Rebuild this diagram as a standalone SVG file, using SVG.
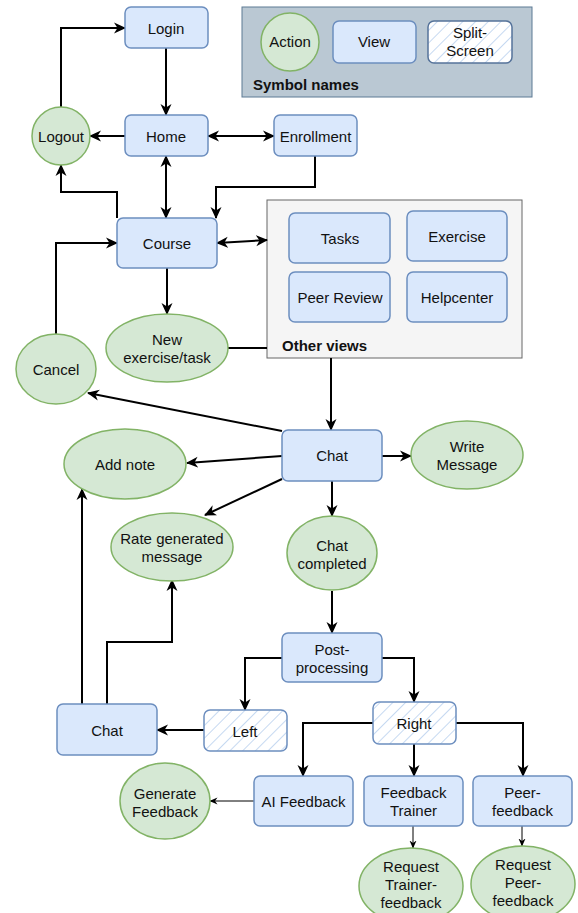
<svg xmlns="http://www.w3.org/2000/svg" width="578" height="913" viewBox="0 0 578 913">
<style>
.view{fill:#dae8fc;stroke:#6c8ebf;stroke-width:1.5}
.act{fill:#d5e8d4;stroke:#82b366;stroke-width:1.5}
.split{fill:url(#hatch);stroke:#6c8ebf;stroke-width:1.5}
text{font-family:"Liberation Sans",Arial,sans-serif;font-size:15px;fill:#111;text-anchor:middle}
.bold{font-weight:bold;text-anchor:start}
.c{fill:none;stroke:#000;stroke-width:2}
.c1{fill:none;stroke:#000;stroke-width:1}
.a{marker-end:url(#ah)}
.aa{marker-end:url(#ah);marker-start:url(#ah)}
.t{marker-end:url(#ahs)}
</style>
<defs>
<marker id="ah" markerUnits="userSpaceOnUse" markerWidth="12" markerHeight="12" viewBox="0 0 12 12" refX="11" refY="6" orient="auto-start-reverse">
<path d="M0,0.5 L12,6 L0,11.5 L3.5,6 Z" fill="#000"/>
</marker>
<marker id="ahs" markerUnits="userSpaceOnUse" markerWidth="8" markerHeight="8" viewBox="0 0 8 8" refX="7.5" refY="4" orient="auto">
<path d="M0,0.5 L8,4 L0,7.5 L2.5,4 Z" fill="#000"/>
</marker>
<pattern id="hatch" patternUnits="userSpaceOnUse" width="9" height="9" patternTransform="rotate(45)">
<rect width="9" height="9" fill="#fff"/>
<line x1="0" y1="0" x2="0" y2="9" stroke="#c6d9f1" stroke-width="2"/>
</pattern>
</defs>

<g id="legend">
<rect x="242" y="7" width="290" height="90" fill="#bac8d3" stroke="#5d7a94" stroke-width="1"/>
<circle class="act" cx="290" cy="42" r="29"/>
<text x="290" y="47">Action</text>
<rect class="view" x="333" y="21" width="83" height="42" rx="6"/>
<text x="374" y="47">View</text>
<rect class="split" x="428" y="21" width="84" height="42" rx="6" style="stroke:#56739a"/>
<text x="470" y="38">Split-</text>
<text x="470" y="56">Screen</text>
<text class="bold" x="253" y="90">Symbol names</text>
</g>

<g id="other-views">
<rect x="267" y="200" width="255" height="158" fill="#f5f5f5" stroke="#666" stroke-width="1"/>
<text class="bold" x="282" y="351">Other views</text>
</g>
<g id="tasks"><rect class="view" x="289" y="213" width="101" height="50" rx="6"/><text x="340" y="244">Tasks</text></g>
<g id="exercise"><rect class="view" x="407" y="211" width="100" height="50" rx="6"/><text x="457" y="242">Exercise</text></g>
<g id="peer-review"><rect class="view" x="289" y="272" width="101" height="50" rx="6"/><text x="340" y="303">Peer Review</text></g>
<g id="helpcenter"><rect class="view" x="407" y="272" width="100" height="50" rx="6"/><text x="457" y="303">Helpcenter</text></g>

<g id="connectors">
<path class="c a" d="M61,107 V28 H125"/>
<path class="c a" d="M166,48 V115"/>
<path class="c a" d="M125,136 H90"/>
<path class="c aa" d="M208,136 H274"/>
<path class="c aa" d="M166,156 V218"/>
<path class="c a" d="M315,156 V187 H216 V218"/>
<path class="c a" d="M117,218 V192 H61 V165"/>
<path class="c aa" d="M217,243 L267,240"/>
<path class="c a" d="M167,268 V314"/>
<path class="c" d="M228,348 H267"/>
<path class="c a" d="M56,334 V243 H117"/>
<path class="c a" d="M331,358 V430"/>
<path class="c a" d="M282,431 L88,393"/>
<path class="c a" d="M282,456 L187,463"/>
<path class="c a" d="M282,479 L205,515"/>
<path class="c a" d="M382,456 H411"/>
<path class="c a" d="M332,481 V516"/>
<path class="c a" d="M332,591 V633"/>
<path class="c a" d="M282,658 H245 V710"/>
<path class="c a" d="M382,658 H414 V702"/>
<path class="c a" d="M204,730 H157"/>
<path class="c a" d="M82,704 V489"/>
<path class="c a" d="M107,704 V642 H172 V580"/>
<path class="c a" d="M373,723 H303 V776"/>
<path class="c a" d="M414,744 V776"/>
<path class="c a" d="M456,723 H523 V776"/>
<path class="c1 t" d="M254,801 H210"/>
<path class="c1 t" d="M413,826 V848"/>
<path class="c1 t" d="M522,826 V846"/>
</g>

<g id="login"><rect class="view" x="125" y="7" width="83" height="41" rx="6"/><text x="166" y="34">Login</text></g>
<g id="home"><rect class="view" x="125" y="115" width="83" height="41" rx="6"/><text x="166" y="142">Home</text></g>
<g id="logout"><circle class="act" cx="61" cy="136" r="29"/><text x="61" y="142">Logout</text></g>
<g id="enrollment"><rect class="view" x="274" y="115" width="83" height="41" rx="6"/><text x="315.5" y="142">Enrollment</text></g>
<g id="course"><rect class="view" x="117" y="218" width="100" height="50" rx="6"/><text x="167" y="249">Course</text></g>
<g id="new-exercise"><ellipse class="act" cx="167" cy="348" rx="61" ry="34"/><text x="167" y="345">New</text><text x="167" y="363">exercise/task</text></g>
<g id="cancel"><ellipse class="act" cx="56" cy="369" rx="40" ry="35"/><text x="56" y="375">Cancel</text></g>
<g id="chat"><rect class="view" x="282" y="430" width="100" height="51" rx="6"/><text x="332" y="461">Chat</text></g>
<g id="add-note"><ellipse class="act" cx="125" cy="464" rx="61" ry="35"/><text x="125" y="470">Add note</text></g>
<g id="rate"><ellipse class="act" cx="172" cy="547" rx="61" ry="34"/><text x="172" y="544">Rate generated</text><text x="172" y="562">message</text></g>
<g id="write-message"><ellipse class="act" cx="467" cy="455" rx="56" ry="34"/><text x="467" y="452">Write</text><text x="467" y="470">Message</text></g>
<g id="chat-completed"><ellipse class="act" cx="332" cy="553" rx="45" ry="37"/><text x="332" y="551">Chat</text><text x="332" y="569">completed</text></g>
<g id="post-processing"><rect class="view" x="282" y="633" width="100" height="49" rx="6"/><text x="332" y="655">Post-</text><text x="332" y="673">processing</text></g>
<g id="left"><rect class="split" x="204" y="710" width="83" height="41" rx="6"/><text x="245" y="737">Left</text></g>
<g id="right"><rect class="split" x="373" y="702" width="83" height="42" rx="6"/><text x="414" y="729">Right</text></g>
<g id="chat2"><rect class="view" x="57" y="704" width="100" height="51" rx="6"/><text x="107" y="736">Chat</text></g>
<g id="ai-feedback"><rect class="view" x="254" y="776" width="99" height="50" rx="6"/><text x="303.5" y="807">AI Feedback</text></g>
<g id="feedback-trainer"><rect class="view" x="364" y="776" width="99" height="50" rx="6"/><text x="413.5" y="798">Feedback</text><text x="413.5" y="816">Trainer</text></g>
<g id="peer-feedback"><rect class="view" x="473" y="776" width="99" height="50" rx="6"/><text x="522.5" y="798">Peer-</text><text x="522.5" y="816">feedback</text></g>
<g id="generate-feedback"><ellipse class="act" cx="165" cy="801" rx="45" ry="38"/><text x="165" y="799">Generate</text><text x="165" y="817">Feedback</text></g>
<g id="request-trainer"><ellipse class="act" cx="411" cy="886" rx="52" ry="38"/><text x="411" y="872">Request</text><text x="411" y="890">Trainer-</text><text x="411" y="908">feedback</text></g>
<g id="request-peer"><ellipse class="act" cx="523" cy="884" rx="52" ry="38"/><text x="523" y="870">Request</text><text x="523" y="888">Peer-</text><text x="523" y="906">feedback</text></g>
</svg>
